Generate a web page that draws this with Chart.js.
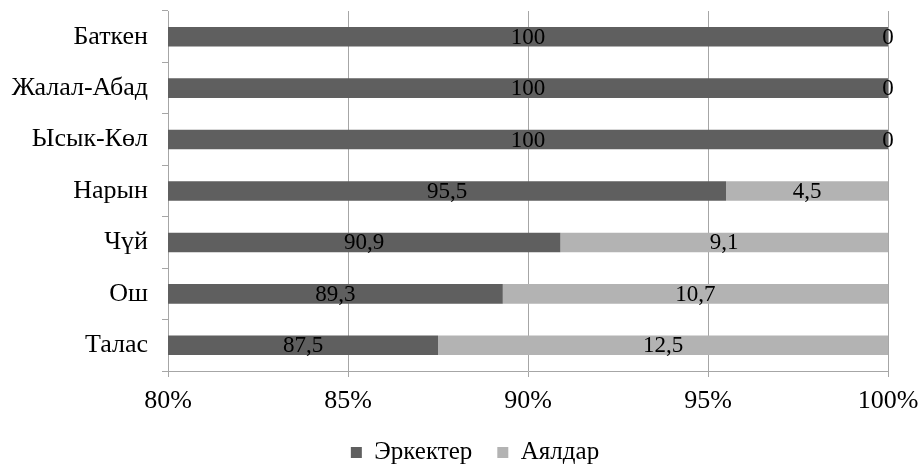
<!DOCTYPE html>
<html>
<head>
<meta charset="utf-8">
<script src="https://cdn.jsdelivr.net/npm/chart.js@4"></script>
<style>
html,body{margin:0;padding:0;background:#fff;}
#wrap{width:918px;height:466px;position:relative;}
</style>
</head>
<body>
<div id="wrap"><canvas id="c"></canvas></div>
<script>
const categories = ['Баткен', 'Жалал-Абад', 'Ысык-Көл', 'Нарын', 'Чүй', 'Ош', 'Талас'];
const men = [100, 100, 100, 95.5, 90.9, 89.3, 87.5];
const women = [0, 0, 0, 4.5, 9.1, 10.7, 12.5];
const seriesNames = ['Эркектер', 'Аялдар'];
const xTicks = [80, 85, 90, 95, 100];

const FONT = "'Liberation Serif', 'Times New Roman', serif";

const labelPlugin = {
  id: 'segLabels',
  afterDatasetsDraw(chart) {
    const ctx = chart.ctx;
    const area = chart.chartArea;
    ctx.save();
    ctx.font = '23px ' + FONT;
    ctx.fillStyle = '#000';
    ctx.textAlign = 'center';
    ctx.textBaseline = 'middle';
    chart.data.datasets.forEach((ds, di) => {
      const meta = chart.getDatasetMeta(di);
      meta.data.forEach((bar, i) => {
        const p = bar.getProps(['x', 'y', 'base'], true);
        const a = Math.max(Math.min(p.x, p.base), area.left);
        const b = Math.min(Math.max(p.x, p.base), area.right);
        const cx = (a + b) / 2;
        ctx.fillText(String(ds.data[i]).replace('.', ','), cx, p.y + 1);
      });
    });
    ctx.restore();
  }
};

const legendShift = {
  id: 'legendShift',
  afterLayout(chart) {
    const l = chart.legend;
    if (!l) return;
    l.left += 31; l.right += 31;
    l.top += 0; l.bottom += 0;
  }
};

new Chart(document.getElementById('c'), {
  type: 'bar',
  data: {
    labels: categories,
    datasets: [
      { label: seriesNames[0], data: men, backgroundColor: '#5f5f5f', barPercentage: 0.38, categoryPercentage: 1 },
      { label: seriesNames[1], data: women, backgroundColor: '#b3b3b3', barPercentage: 0.38, categoryPercentage: 1 }
    ]
  },
  options: {
    indexAxis: 'y',
    responsive: true,
    maintainAspectRatio: false,
    animation: false,
    layout: { padding: { left: 0, right: 30, top: 11, bottom: -9 } },
    plugins: {
      legend: {
        position: 'bottom',
        labels: {
          font: { family: FONT, size: 25 },
          color: '#000',
          boxWidth: 11,
          boxHeight: 11,
          padding: 25
        }
      },
      tooltip: { enabled: false }
    },
    scales: {
      x: {
        stacked: true,
        min: 80,
        max: 100,
        afterBuildTicks(axis) { axis.ticks = xTicks.map(v => ({ value: v })); },
        afterFit(axis) { axis.height = 44; axis.paddingLeft = 0; axis.paddingRight = 0; },
        ticks: {
          font: { family: FONT, size: 26 },
          color: '#000',
          padding: 9,
          maxRotation: 0,
          callback: v => v + '%'
        },
        grid: { color: '#a6a6a6', lineWidth: 1, tickLength: 6, drawTicks: true },
        border: { color: '#a6a6a6' }
      },
      y: {
        stacked: true,
        afterFit(axis) { axis.width = 168; axis.paddingTop = 0; axis.paddingBottom = 0; },
        ticks: {
          font: { family: FONT, size: 26 },
          color: '#000',
          padding: 14
        },
        grid: { display: true, drawOnChartArea: false, offset: true, tickLength: 6, color: '#a6a6a6' },
        border: { color: '#a6a6a6' }
      }
    }
  },
  plugins: [labelPlugin, legendShift]
});
</script>
</body>
</html>
